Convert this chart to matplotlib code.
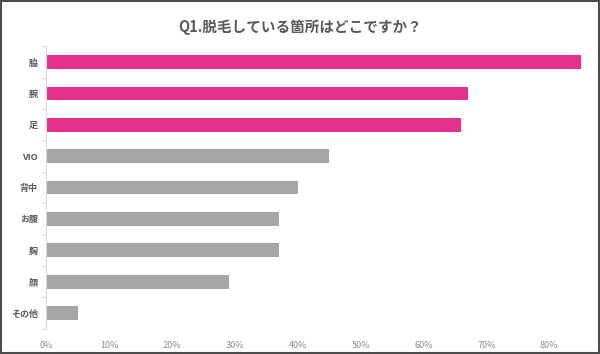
import matplotlib
matplotlib.use('Agg')
import matplotlib.pyplot as plt
from matplotlib.patches import Rectangle
from matplotlib.ticker import PercentFormatter, FixedLocator
import numpy as np

plt.rcParams['font.family'] = ['Noto Sans CJK JP', 'DejaVu Sans']

categories = ['脇', '腕', '足', 'VIO', '背中', 'お腹', '胸', '顔', 'その他']
values = [85, 67, 66, 45, 40, 37, 37, 29, 5]
highlight = [True, True, True, False, False, False, False, False, False]
xticks = [0, 10, 20, 30, 40, 50, 60, 70, 80]

pink = '#E4318C'
gray = '#A6A6A6'
text_col = '#595959'

fig = plt.figure(figsize=(6, 3.54), dpi=100)
ax = fig.add_axes([0.0772, 0.0715, 0.896, 0.7975])

y = np.arange(len(categories))
colors = [pink if h else gray for h in highlight]
ax.barh(y, values, height=0.44, color=colors)

ax.set_ylim(len(categories) - 0.5, -0.5)
ax.set_xlim(0, 85.5)
ax.set_yticks(y)
ax.set_yticklabels(categories, fontsize=6.5, color=text_col, fontweight='bold')
ax.yaxis.set_minor_locator(FixedLocator(np.arange(-0.5, len(categories), 1)))
ax.tick_params(axis='y', which='major', length=0, pad=6)
ax.tick_params(axis='y', which='minor', length=3, color='#D9D9D9', width=0.8)

ax.set_xticks(xticks)
ax.xaxis.set_major_formatter(PercentFormatter(decimals=0))
ax.tick_params(axis='x', length=0, labelsize=6.5, labelcolor='#8C8C8C', pad=9)

for s in ['top', 'right', 'bottom']:
    ax.spines[s].set_visible(False)
ax.spines['left'].set_color('#D9D9D9')
ax.spines['left'].set_linewidth(0.8)

fig.text(0.5, 0.925, 'Q1.脱毛している箇所はどこですか？', ha='center', va='center',
         fontsize=10.5, color=text_col, fontweight='bold')

fig.patches.append(Rectangle((0.0015, 0.0025), 0.997, 0.995, transform=fig.transFigure,
                             fill=False, edgecolor='#4D4D4D', linewidth=1.5))

plt.savefig('out.png', dpi=100)
